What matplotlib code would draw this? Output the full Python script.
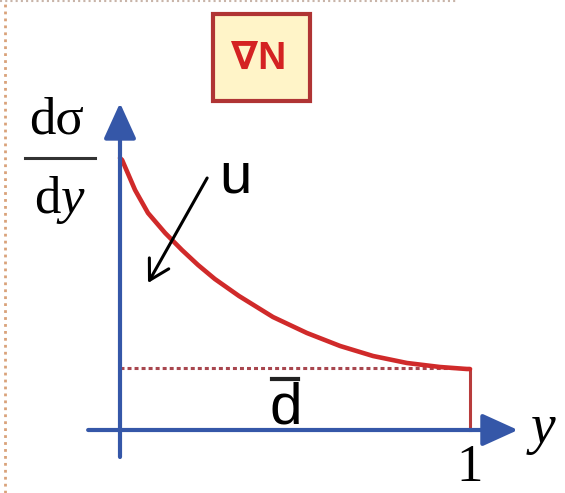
#!/usr/bin/python
import matplotlib.pyplot as plt
from matplotlib.patches import Rectangle

# sketch of d(sigma)/dy versus y
curve_x = [0.0, 0.006, 0.043, 0.080, 0.129, 0.177, 0.223, 0.271, 0.340,
           0.437, 0.534, 0.629, 0.723, 0.820, 0.914, 0.991, 1.0]
curve_y = [2.72, 2.70, 2.40, 2.17, 1.97, 1.80, 1.65, 1.51, 1.34,
           1.13, 0.97, 0.84, 0.74, 0.67, 0.63, 0.61, 0.61]
dbar_level = 0.62
y_end = 1.0

box_label = '∇N'
ylabel_top = 'dσ'
ylabel_bottom = r'$\mathrm{d}y$'
xlabel = r'$y$'
tick_label = '1'
u_label = 'u'
dbar_label = 'd'

BLUE = '#3557a8'
RED = '#d02a2a'

plt.rcParams['mathtext.fontset'] = 'custom'
plt.rcParams['mathtext.rm'] = 'Liberation Serif'
plt.rcParams['mathtext.it'] = 'Liberation Serif:italic'

fig = plt.figure(figsize=(5.65, 4.93), dpi=100)
ax = fig.add_axes([0, 0, 1, 1])
ax.set_xlim(-120 / 350, 445 / 350)
ax.set_ylim(-0.63, 4.30)
ax.axis('off')

# dotted frame at the left and top edges
ax.plot([0.009, 0.009], [0, 1], transform=ax.transAxes, color='#d9a27a',
        lw=2, linestyle=(0, (1, 1.5)), clip_on=False)
ax.plot([0, 0.81], [0.998, 0.998], transform=ax.transAxes, color='#c8b4a8',
        lw=1.5, linestyle=(0, (1, 1.5)), clip_on=False)

# axes with arrow heads
arrow = dict(arrowstyle='-|>,head_length=1.1,head_width=0.5', lw=3,
             color=BLUE, mutation_scale=20, shrinkA=0, shrinkB=0)
ax.annotate('', xy=(0, 3.27), xytext=(0, -0.27), arrowprops=arrow)
ax.annotate('', xy=(1.137, 0), xytext=(-0.091, 0), arrowprops=arrow)

# curve, level line and the edge at y = 1
ax.plot([0, y_end], [dbar_level, dbar_level], color='#a8464e', lw=2.2,
        linestyle=(0, (1.3, 1.0)))
ax.plot([y_end, y_end], [0, curve_y[-1]], color='#b83c3c', lw=2.2)
ax.plot(curve_x, curve_y, color=RED, lw=3.3, solid_capstyle='round',
        solid_joinstyle='round')

# black arrow pointing to the curve
ax.annotate('', xy=(0.08, 1.47), xytext=(0.249, 2.52),
            arrowprops=dict(arrowstyle='->,head_length=0.7,head_width=0.4',
                            lw=2.2, color='black', mutation_scale=20,
                            shrinkA=0, shrinkB=0))

# boxed label
ax.add_patch(Rectangle((0.266, 3.29), 0.277, 0.87, fc='#fff4c8',
                       ec='#b03434', lw=3))
ax.text(0.397, 3.71, box_label, fontsize=28, fontweight='bold', color='#d42222',
        family=['Liberation Sans', 'DejaVu Sans'], ha='center', va='center')

# labels
ax.text(-0.18, 3.09, ylabel_top, fontsize=38, family='Liberation Serif',
        ha='center', va='center')
ax.plot([-0.271, -0.071], [2.72, 2.72], color='#333333', lw=2.2)
ax.text(-0.172, 2.30, ylabel_bottom, fontsize=38, ha='center', va='center')
ax.text(1.205, 0.0, xlabel, fontsize=40, ha='center', va='center')
ax.text(1.0, -0.38, tick_label, fontsize=38, family='Liberation Serif',
        ha='center', va='center')
ax.text(0.33, 2.52, u_label, fontsize=42, family='Liberation Sans',
        ha='center', va='center')
ax.text(0.474, 0.22, dbar_label, fontsize=42, family='Liberation Sans',
        ha='center', va='center')
ax.plot([0.434, 0.509], [0.515, 0.515], color='#222222', lw=3)

fig.savefig('out.png', dpi=100)
